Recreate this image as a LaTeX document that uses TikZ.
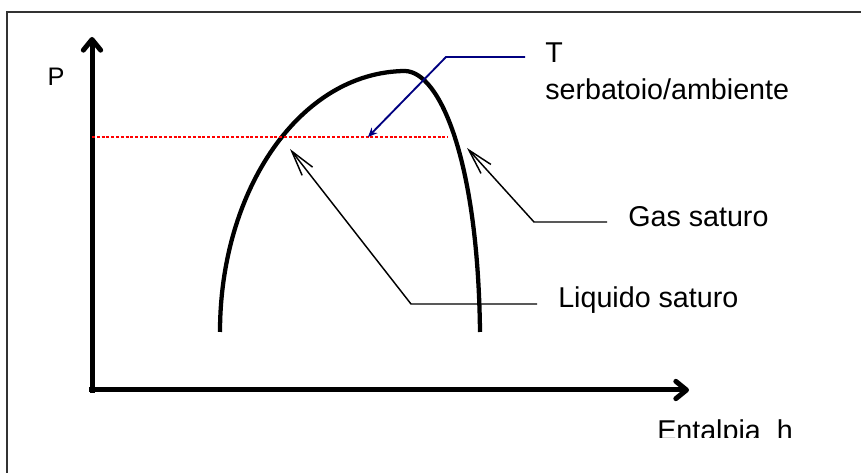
\documentclass[tikz,border=0pt]{standalone}
\usepackage{fontspec}
\setmainfont{Liberation Sans}
\usetikzlibrary{arrows.meta}
\definecolor{blunotte}{RGB}{0,0,128}
\tikzset{
  asse/.style={line width=3.75pt,-{Straight Barb[length=8pt,width=13pt,round]}},
  richiamo/.style={line width=1.1pt,-{Straight Barb[length=19pt,width=10pt]}},
  richiamoblu/.style={line width=1.4pt,blunotte,-{Stealth[length=7pt,width=6pt]}},
  curva/.style={line width=3.2pt,line cap=butt},
  etichetta/.style={font=\fontsize{21.5}{26}\selectfont,inner sep=0pt,anchor=base west},
}
\begin{document}
\begin{tikzpicture}[x=0.75pt,y=-0.75pt]
\useasboundingbox (0,0) rectangle (861,473);
% cornice
\draw[line width=1.2pt,black!80] (7,480) -- (7,12) -- (870,12);

% assi
\coordinate (O) at (92,390);
\coordinate (ytip) at (92,37);
\coordinate (xtip) at (689,390);
\draw[asse] ([yshift=-1.9pt]O) -- (ytip);
\draw[asse] ([xshift=-1.9pt]O) -- (xtip);
\node[font=\fontsize{19}{23}\selectfont,inner sep=0pt] (p) at (56,77) {P};
\begin{scope}
\clip (600,400) rectangle (861,438);
\node[etichetta] (entalpia) at (657,441) {Entalpia\ \ h};
\end{scope}

% campana
\draw[curva] (220,332) .. controls (220,190) and (300,72) .. (405,71)
  .. controls (440,72) and (478,160) .. (480,332);

% isoterma
\draw[red,line width=1.5pt,dash pattern=on 2.2pt off 1.4pt] (92,137) -- (448,137);

% etichette
\node[etichetta] (t) at (545,63) {T};
\node[etichetta] (serb) at (545,100) {serbatoio/ambiente};
\node[etichetta] (gas) at (628,227) {Gas saturo};
\node[etichetta] (liq) at (558,308) {Liquido saturo};

\coordinate (tA) at (525,57);
\coordinate (tB) at (446,57);
\coordinate (tC) at (368,137);
\draw[richiamoblu] (tA) -- (tB) -- (tC);

\coordinate (gA) at (607,222);
\coordinate (gB) at (534,222);
\coordinate (gC) at (467,148);
\draw[richiamo] (gA) -- (gB) -- (gC);

\coordinate (lA) at (537,304);
\coordinate (lB) at (411,304);
\coordinate (lC) at (290,149);
\draw[richiamo] (lA) -- (lB) -- (lC);
\end{tikzpicture}
\end{document}
